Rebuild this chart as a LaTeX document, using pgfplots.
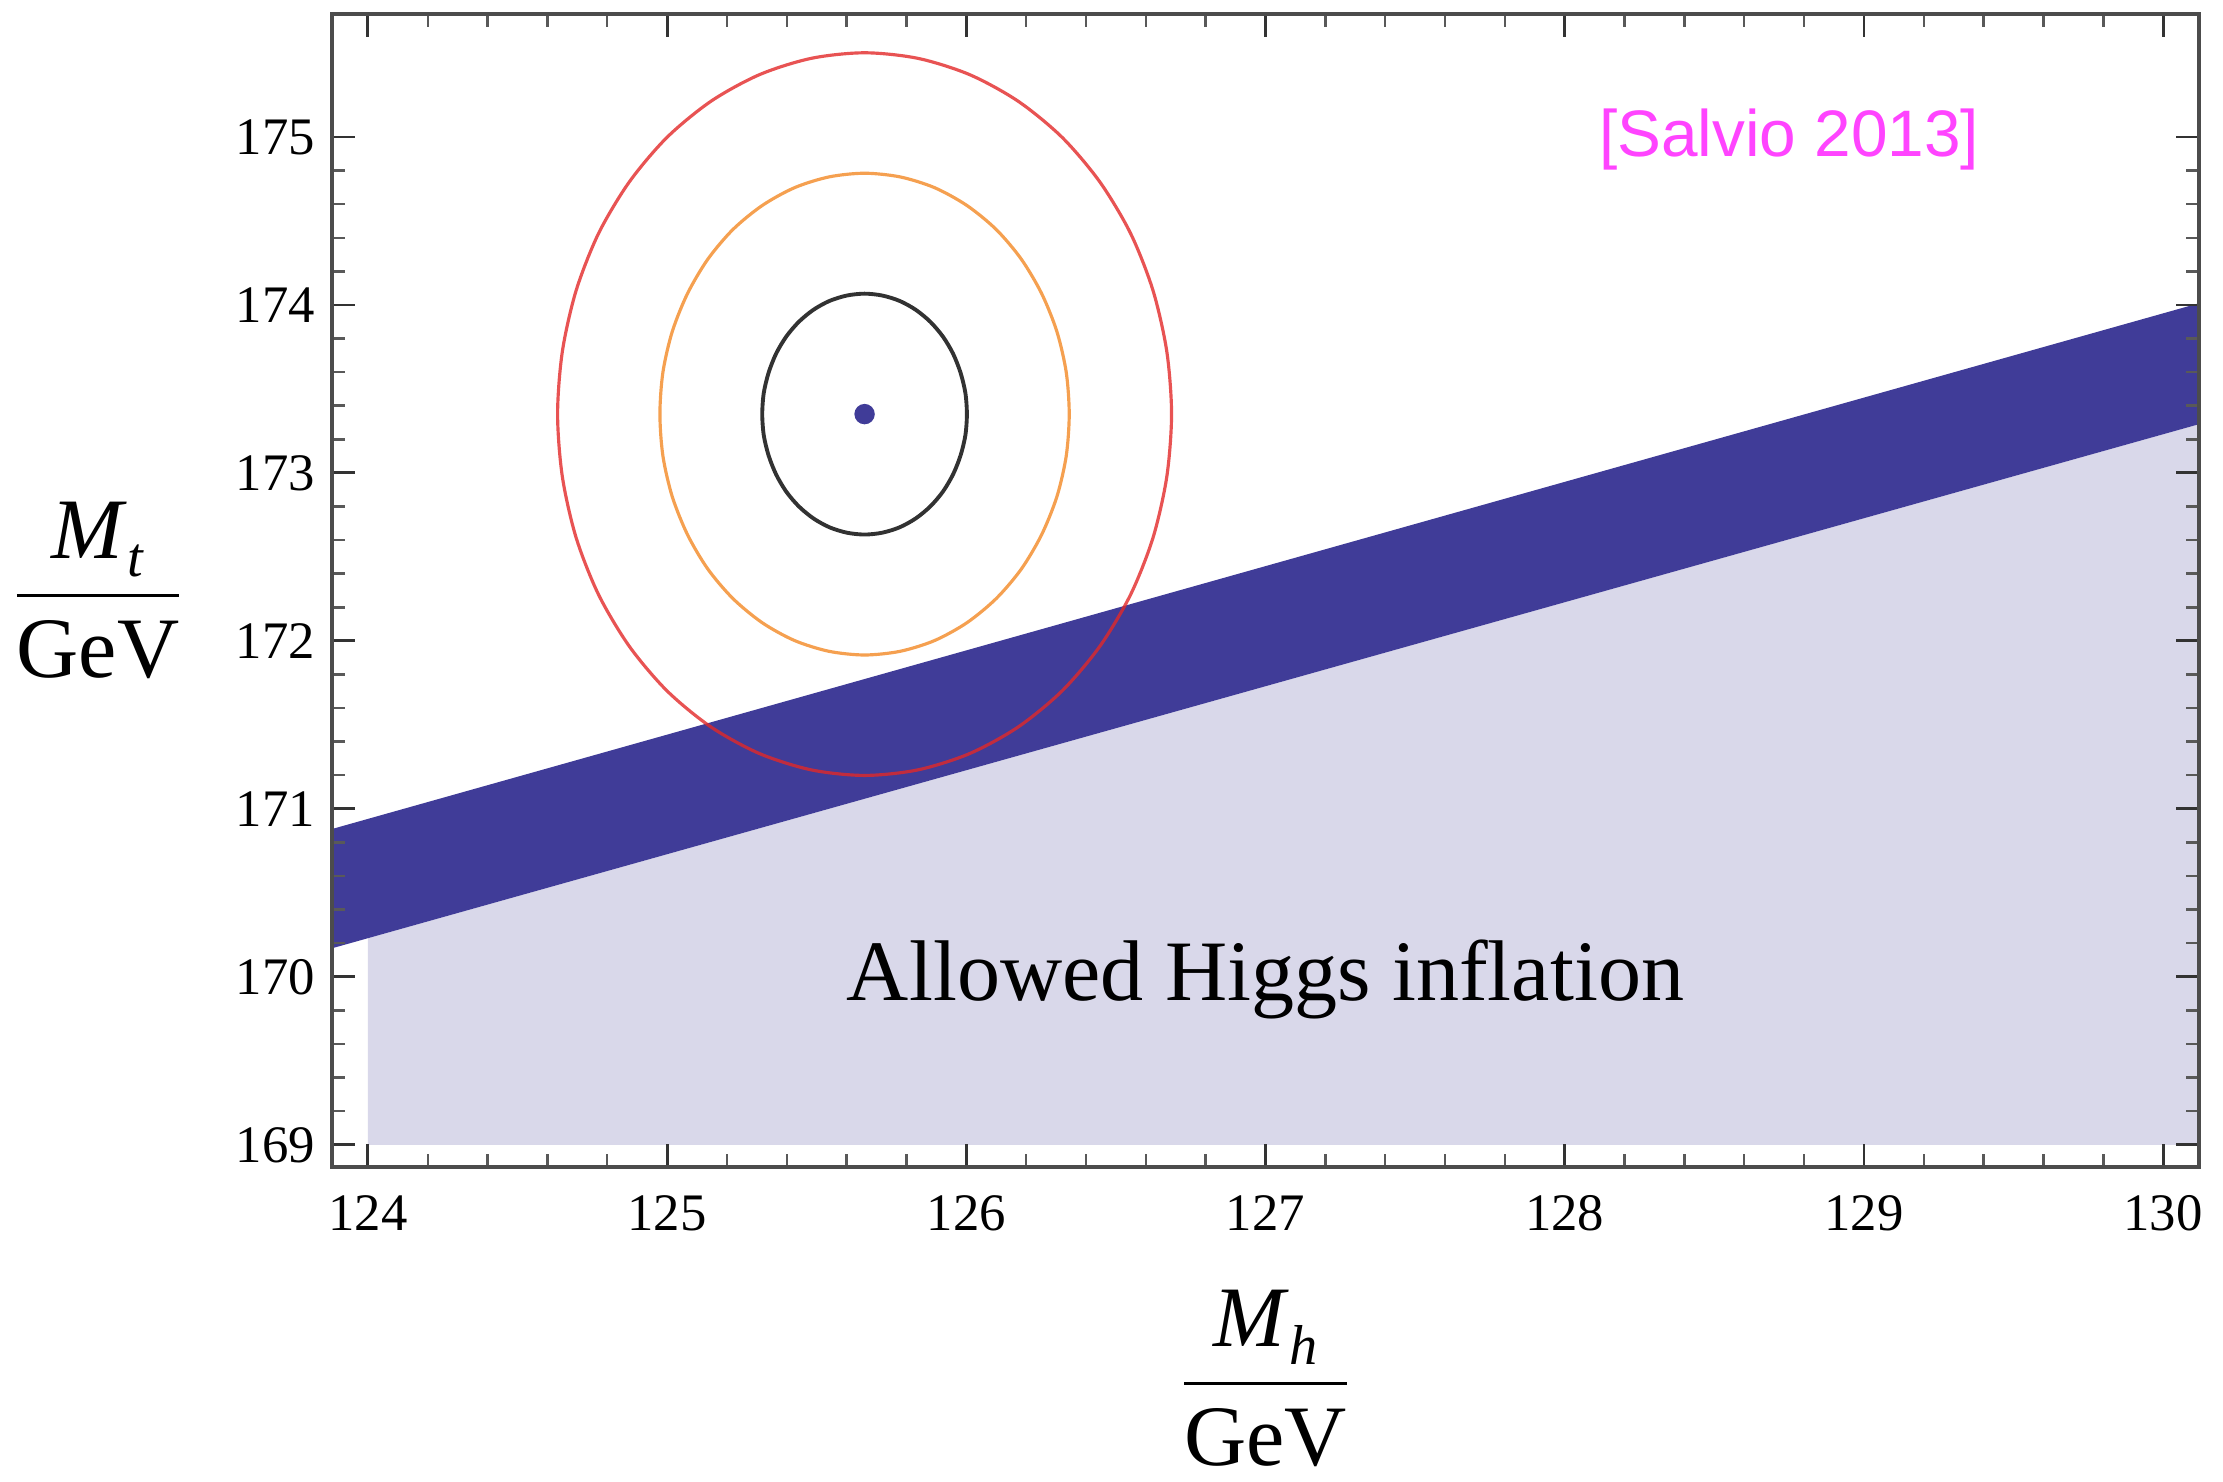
\documentclass[border=0pt]{standalone}
\usepackage{amsmath}
\usepackage{fontspec}
\setmainfont{Liberation Serif}
\newfontfamily\sansf{Liberation Sans}
\usepackage{pgfplots}
\pgfplotsset{compat=1.18}
\usetikzlibrary{calc}
\definecolor{band}{RGB}{64,60,152}
\definecolor{lightband}{RGB}{217,216,234}
\definecolor{ellred}{RGB}{226,40,40}
\definecolor{ellorange}{RGB}{245,160,80}
\definecolor{ellblack}{RGB}{50,50,50}
\definecolor{pinktext}{RGB}{255,68,255}
\newcommand{\sub}[1]{\raisebox{-5pt}{\fontsize{16}{16}\selectfont\textit{#1}}}
\newcommand{\unitfrac}[1]{$\genfrac{}{}{0.9pt}{0}{\text{\textit{M}\sub{#1}}}{\text{GeV}}$}
\begin{document}
\begin{tikzpicture}
\begin{axis}[name=ax, scale only axis, width=18.67cm, height=11.53cm,
  xmin=123.88, xmax=130.12, ymin=168.868, ymax=175.732,
  xtick={124,...,130}, ytick={169,...,175}, minor tick num=4,
  tick align=inside, major tick length=6.5pt, minor tick length=3.7pt,
  every major tick/.style={line width=0.8pt, black!80},
  every minor tick/.style={line width=0.7pt, black!65},
  axis line style={line width=1pt, black!70},
  axis on top,
  /pgf/number format/assume math mode=true,
  tick label style={font=\fontsize{15}{18}\selectfont},
  x tick label style={yshift=-4.6pt},
  y tick label style={xshift=-1.3pt},
  label style={font=\fontsize{24.5}{29}\selectfont},
  xlabel={\unitfrac{h}},
  ylabel={\unitfrac{t}},
  x label style={at={(axis description cs:0.5,-0.1835)}, anchor=center},
  y label style={at={(axis description cs:-0.1253,0.5)}, anchor=center, rotate=-90},
]
% allowed region (light)
\addplot[draw=none, fill=lightband] coordinates {(124,169) (124,170.23) (130.12,173.29) (130.12,169)} -- cycle;
% dark band
\addplot[draw=none, fill=band] coordinates {(123.88,170.88) (130.12,174.01) (130.12,173.29) (123.88,170.17)} -- cycle;
% 3 sigma
\addplot[ellred, draw opacity=0.8, line width=0.9pt, smooth cycle, mark=none] coordinates {
(126.686,173.350) (126.670,173.724) (126.624,174.086) (126.549,174.426) (126.446,174.733) (126.320,174.998)
(126.173,175.213) (126.011,175.371) (125.838,175.468) (125.660,175.501) (125.482,175.468) (125.309,175.371)
(125.147,175.213) (125.000,174.998) (124.874,174.733) (124.771,174.426) (124.696,174.086) (124.650,173.724)
(124.634,173.350) (124.650,172.976) (124.696,172.614) (124.771,172.275) (124.874,171.967) (125.000,171.702)
(125.147,171.487) (125.309,171.329) (125.482,171.232) (125.660,171.199) (125.838,171.232) (126.011,171.329)
(126.173,171.487) (126.320,171.702) (126.446,171.967) (126.549,172.275) (126.624,172.614) (126.670,172.976)};
% 2 sigma
\addplot[ellorange, line width=0.9pt, smooth cycle, mark=none] coordinates {
(126.344,173.350) (126.334,173.599) (126.303,173.840) (126.252,174.067) (126.184,174.272) (126.100,174.449)
(126.002,174.592) (125.894,174.698) (125.779,174.762) (125.660,174.784) (125.541,174.762) (125.426,174.698)
(125.318,174.592) (125.220,174.449) (125.136,174.272) (125.068,174.067) (125.017,173.840) (124.986,173.599)
(124.976,173.350) (124.986,173.101) (125.017,172.860) (125.068,172.633) (125.136,172.428) (125.220,172.252)
(125.318,172.108) (125.426,172.002) (125.541,171.938) (125.660,171.916) (125.779,171.938) (125.894,172.002)
(126.002,172.108) (126.100,172.252) (126.184,172.428) (126.252,172.633) (126.303,172.860) (126.334,173.101)};
% 1 sigma
\addplot[ellblack, line width=1.1pt, smooth cycle, mark=none] coordinates {
(126.002,173.350) (125.997,173.475) (125.981,173.595) (125.956,173.709) (125.922,173.811) (125.880,173.899)
(125.831,173.971) (125.777,174.024) (125.719,174.056) (125.660,174.067) (125.601,174.056) (125.543,174.024)
(125.489,173.971) (125.440,173.899) (125.398,173.811) (125.364,173.709) (125.339,173.595) (125.323,173.475)
(125.318,173.350) (125.323,173.225) (125.339,173.105) (125.364,172.992) (125.398,172.889) (125.440,172.801)
(125.489,172.729) (125.543,172.676) (125.601,172.644) (125.660,172.633) (125.719,172.644) (125.777,172.676)
(125.831,172.729) (125.880,172.801) (125.922,172.889) (125.956,172.992) (125.981,173.105) (125.997,173.225)};
% central value
\addplot[only marks, mark=*, mark size=2.7pt, color=band] coordinates {(125.66,173.35)};
\node[anchor=base, font=\fontsize{24.5}{29}\selectfont] at (axis cs:127.0,169.86) {Allowed Higgs inflation};
\node[anchor=base, text=pinktext, font=\sansf\fontsize{18.7}{22}\selectfont] at (axis cs:128.75,174.886) {[Salvio 2013]};
\end{axis}
\pgfresetboundingbox
\path[use as bounding box] ($(ax.south west)+(-3.32cm,-3.15cm)$) rectangle ($(ax.north east)+(0.24cm,0.14cm)$);
\end{tikzpicture}
\end{document}
